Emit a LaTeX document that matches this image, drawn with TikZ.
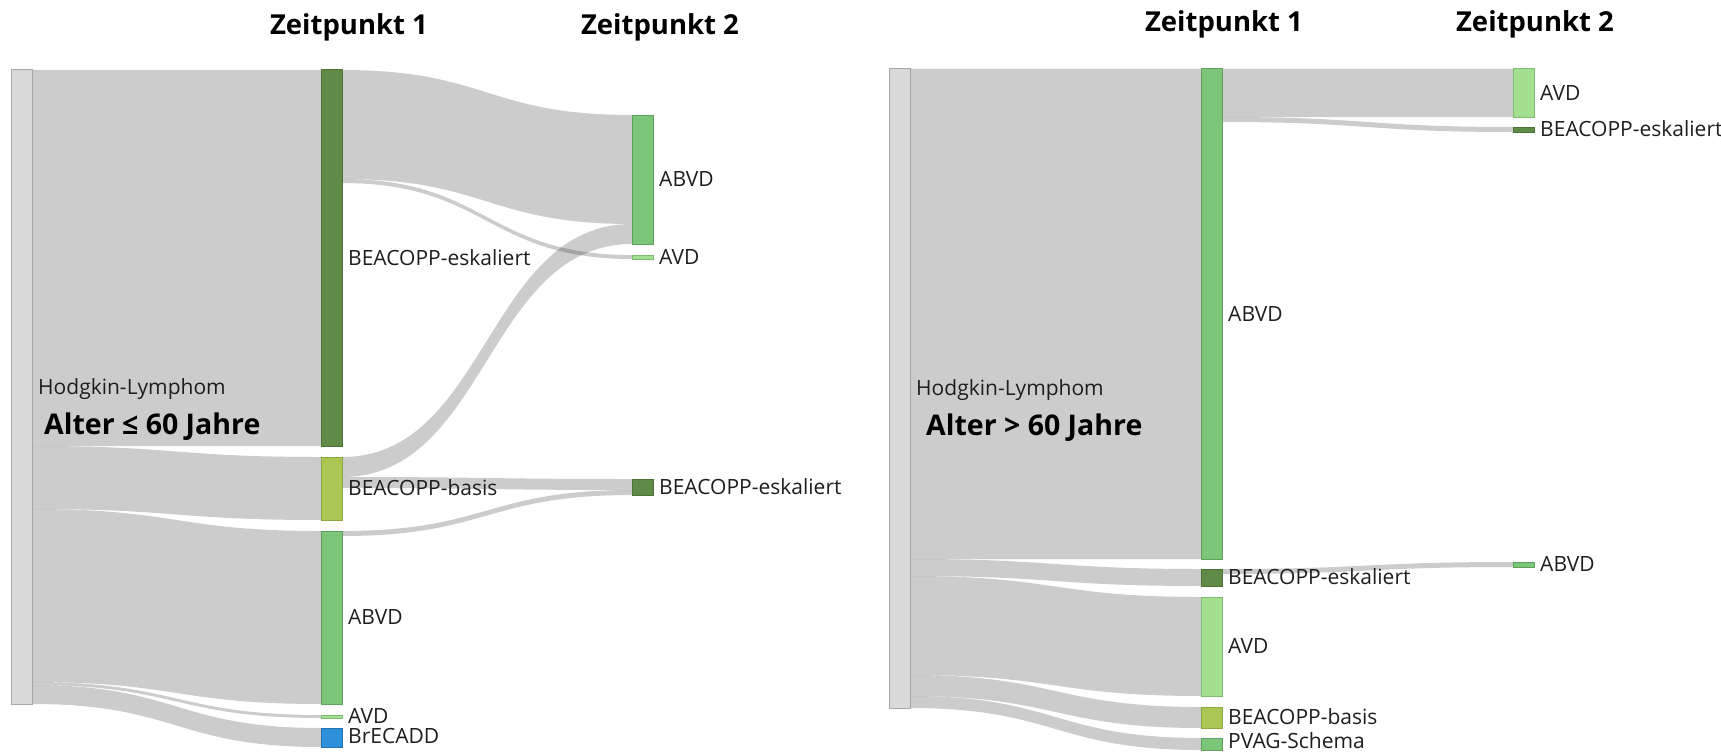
\documentclass[tikz,border=0pt]{standalone}
\usepackage{fontspec}
\setmainfont{Open Sans}
\usetikzlibrary{calc,backgrounds}
\definecolor{srcfill}{HTML}{D9D9D9}
\definecolor{srcdraw}{HTML}{A6A6A6}
\definecolor{eskfill}{HTML}{5F8B46}
\definecolor{eskdraw}{HTML}{4C7238}
\definecolor{basisfill}{HTML}{A9C752}
\definecolor{basisdraw}{HTML}{8BA83F}
\definecolor{abvdfill}{HTML}{7CC67A}
\definecolor{abvddraw}{HTML}{5EA05C}
\definecolor{avdfill}{HTML}{A4DF90}
\definecolor{avddraw}{HTML}{7FBB6E}
\definecolor{brefill}{HTML}{2E8FDA}
\definecolor{bredraw}{HTML}{2370B3}
\definecolor{labeltext}{HTML}{1E1E1E}
\def\flow(#1:#2:#3)(#4:#5:#6){\fill[flowfill] (#1.east |- 0,#2) .. controls ($(#1.east |- 0,#2)!.5!(#4.west |- 0,#2)$) and ($(#1.east |- 0,#5)!.5!(#4.west |- 0,#5)$) .. (#4.west |- 0,#5) -- (#4.west |- 0,#6) .. controls ($(#1.east |- 0,#6)!.5!(#4.west |- 0,#6)$) and ($(#1.east |- 0,#3)!.5!(#4.west |- 0,#3)$) .. (#1.east |- 0,#3) -- cycle;}

\begin{document}
\begin{tikzpicture}[x=1pt,y=-1pt,
  bar/.style={rectangle,inner sep=0pt,outer sep=0pt,minimum width=21pt,anchor=north west,line width=1pt},
  src/.style={bar,fill=srcfill,draw=srcdraw},
  esk/.style={bar,fill=eskfill,draw=eskdraw},
  basis/.style={bar,fill=basisfill,draw=basisdraw},
  abvd/.style={bar,fill=abvdfill,draw=abvddraw},
  avd/.style={bar,fill=avdfill,draw=avddraw},
  brecadd/.style={bar,fill=brefill,draw=bredraw},
  lbl/.style={anchor=base west,inner sep=0pt,font=\fontsize{21}{25}\selectfont,text=labeltext},
  colhead/.style={anchor=base,inner sep=0pt,font=\fontsize{27.5}{33}\selectfont\bfseries},
  agehead/.style={anchor=base west,inner sep=0pt,font=\fontsize{28.5}{34}\selectfont\bfseries},
  flowfill/.style={fill=black,fill opacity=0.2}]
			%%%%% START %%%%%
			\useasboundingbox (0,0) rectangle (1721,752);
			
			% left: Alter <= 60
			\node[src,minimum height=634pt] (hlL) at (11,70) {};
			\node[esk,minimum height=376pt] (eskL) at (321,70) {};
			\node[basis,minimum height=63pt] (basisL) at (321,457) {};
			\node[abvd,minimum height=173pt] (abvdL) at (321,531) {};
			\node[avd,minimum height=3pt] (avdL) at (321,715) {};
			\node[brecadd,minimum height=19pt] (brecaddL) at (321,728) {};
			\node[abvd,minimum height=129pt] (abvdLL) at (632,115) {};
			\node[avd,minimum height=4pt] (avdLL) at (632,255) {};
			\node[esk,minimum height=16pt] (eskLL) at (632,479) {};
			
			\begin{scope}[on background layer]
			\flow(hlL:70:446)(eskL:70:446)
			\flow(hlL:446:509)(basisL:457:520)
			\flow(hlL:509:682)(abvdL:531:704)
			\flow(hlL:682:685)(avdL:715:718)
			\flow(hlL:685:704)(brecaddL:728:747)
			\flow(eskL:70:179)(abvdLL:115:224)
			\flow(eskL:179:183)(avdLL:255:259)
			\flow(basisL:457:477)(abvdLL:224:244)
			\flow(basisL:477:488)(eskLL:479:490)
			\flow(abvdL:531:536)(eskLL:490:495)
			\end{scope}
			
			\node[colhead] (z1L) at (349,35) {Zeitpunkt 1};
			\node[colhead] (z2L) at (660,35) {Zeitpunkt 2};
			\node[lbl] (hlLtxt) at ($(hlL.east)+(6,7)$) {Hodgkin-Lymphom};
			\node[agehead] (ageL) at (44,434) {Alter ≤ 60 Jahre};
			\node[lbl] (eskLtxt) at ($(eskL.east)+(6,7)$) {BEACOPP-eskaliert};
			\node[lbl] (basisLtxt) at ($(basisL.east)+(6,7)$) {BEACOPP-basis};
			\node[lbl] (abvdLtxt) at ($(abvdL.east)+(6,7)$) {ABVD};
			\node[lbl] (avdLtxt) at ($(avdL.east)+(6,7)$) {AVD};
			\node[lbl] (brecaddLtxt) at ($(brecaddL.east)+(6,6)$) {BrECADD};
			\node[lbl] (abvdLLtxt) at ($(abvdLL.east)+(6,7)$) {ABVD};
			\node[lbl] (avdLLtxt) at ($(avdLL.east)+(6,7)$) {AVD};
			\node[lbl] (eskLLtxt) at ($(eskLL.east)+(6,7)$) {BEACOPP-eskaliert};
			
			% right: Alter > 60
			\node[src,minimum height=639pt] (hlR) at (889,69) {};
			\node[abvd,minimum height=490pt] (abvdR) at (1201,69) {};
			\node[esk,minimum height=17pt] (eskR) at (1201,569) {};
			\node[avd,minimum height=99pt] (avdR) at (1201,597) {};
			\node[basis,minimum height=21pt] (basisR) at (1201,707) {};
			\node[abvd,minimum height=12pt] (pvagR) at (1201,738) {};
			\node[avd,minimum height=48pt] (avdRR) at (1513,69) {};
			\node[esk,minimum height=5pt] (eskRR) at (1513,127) {};
			\node[abvd,minimum height=5pt] (abvdRR) at (1513,562) {};
			
			\begin{scope}[on background layer]
			\flow(hlR:69:559)(abvdR:69:559)
			\flow(hlR:559:576)(eskR:569:586)
			\flow(hlR:576:675)(avdR:597:696)
			\flow(hlR:675:696)(basisR:707:728)
			\flow(hlR:696:708)(pvagR:738:750)
			\flow(abvdR:69:117)(avdRR:69:117)
			\flow(abvdR:117:122)(eskRR:127:132)
			\flow(eskR:569:574)(abvdRR:562:567)
			\end{scope}
			
			\node[colhead] (z1R) at (1224,32) {Zeitpunkt 1};
			\node[colhead] (z2R) at (1535,32) {Zeitpunkt 2};
			\node[lbl] (hlRtxt) at ($(hlR.east)+(6,7)$) {Hodgkin-Lymphom};
			\node[agehead] (ageR) at (926,435) {Alter > 60 Jahre};
			\node[lbl] (abvdRtxt) at ($(abvdR.east)+(6,7)$) {ABVD};
			\node[lbl] (eskRtxt) at ($(eskR.east)+(6,7)$) {BEACOPP-eskaliert};
			\node[lbl] (avdRtxt) at ($(avdR.east)+(6,7)$) {AVD};
			\node[lbl] (basisRtxt) at ($(basisR.east)+(6,7)$) {BEACOPP-basis};
			\node[lbl] (pvagRtxt) at ($(pvagR.east)+(6,4)$) {PVAG-Schema};
			\node[lbl] (avdRRtxt) at ($(avdRR.east)+(6,7)$) {AVD};
			\node[lbl] (eskRRtxt) at ($(eskRR.east)+(6,7)$) {BEACOPP-eskaliert};
			\node[lbl] (abvdRRtxt) at ($(abvdRR.east)+(6,7)$) {ABVD};
			
			%%%%% END %%%%%
\end{tikzpicture}
\end{document}
